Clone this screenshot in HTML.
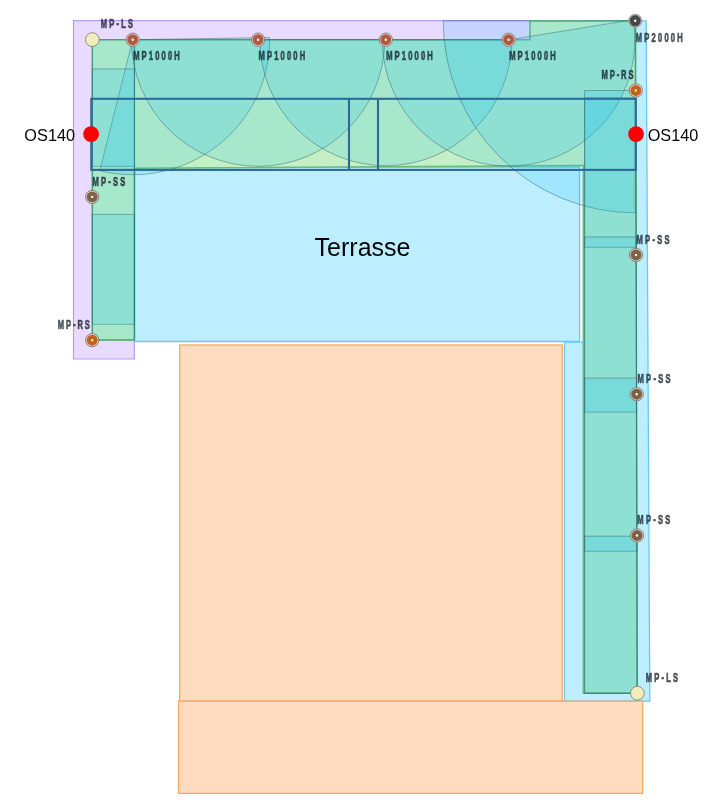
<!DOCTYPE html>
<html lang="de"><head><meta charset="utf-8"><title>Terrasse</title>
<style>
html,body{margin:0;padding:0;background:#fff;}
body{width:710px;height:811px;overflow:hidden;font-family:"Liberation Sans",sans-serif;}
svg{display:block;}
</style></head><body>
<svg width="710" height="811" viewBox="0 0 710 811">
<rect width="710" height="811" fill="#fff"/>
<path d="M73.5,20.7 H530 V40 H134.4 V359 H73.5 Z" fill="#e9daff" stroke="#b59cfa" stroke-width="1.2"/>
<path d="M134.4,167 H579.6 V341.5 H134.4 Z" fill="#bdeeff" stroke="#6cc8ee" stroke-width="1.3"/>
<path d="M583.6,20.8 H646.2 L649.8,701.2 H564.5 V342.2 H583.6 Z" fill="#bdeeff" stroke="#6cc8ee" stroke-width="1.3"/>
<rect x="179.7" y="345" width="382.6" height="356.2" fill="#ffdcc0" stroke="#f2a866" stroke-width="1.3"/>
<rect x="178.5" y="701.2" width="464.2" height="92.2" fill="#ffdcc0" stroke="#f2a866" stroke-width="1.3"/>
<path d="M92.3,39.7 H530 V20.9 H635.6 L637.2,693.2 H583.3 V165.5 L134.4,168.3 V340 H92.3 Z" fill="#c5efc4" stroke="#64c077" stroke-width="1.5"/>
<g fill="rgba(0,185,255,0.15)" stroke="rgba(58,100,104,0.55)" stroke-width="0.9" stroke-linejoin="round">
<path d="M132.70,39.70 L269.58,37.58 A136.90,135.00 0 0 1 99.81,170.75 Z"/>
<path d="M258.10,39.70 L384.70,39.70 A126.60,126.60 0 0 1 131.50,39.70 Z"/>
<path d="M385.80,39.70 L511.80,39.70 A126.00,126.00 0 0 1 259.80,39.70 Z"/>
<path d="M508.60,39.90 L633.28,19.71 A126.30,126.30 0 1 1 382.30,39.90 Z"/>
<path d="M635.20,20.80 L635.20,212.80 A192.00,192.00 0 0 1 443.20,20.80 Z"/>
<g stroke="rgba(35,105,110,0.45)" stroke-width="1">
<rect x="92.3" y="39.7" width="42.1" height="126.6"/>
<rect x="92.3" y="69" width="42.1" height="255.3"/>
<rect x="92.3" y="214.4" width="42.1" height="125.6"/>
</g>
<path d="M134.5,45 V340" fill="none" stroke="rgba(20,125,130,0.5)" stroke-width="1.2"/>
<path d="M584.6,90.5 H635.8 L636.1,247.3 H584.6 Z"/>
<path d="M584.6,98 H635.8 L636.6,412.1 H584.6 Z"/>
<path d="M584.6,237 H636.1 L637,551.3 H584.6 Z"/>
<path d="M584.6,378.1 H636.5 L637.2,693.2 H584.6 Z"/>
<path d="M584.6,536.2 H636.9 L637.2,693.2 H584.6 Z"/>
</g>
<g fill="none" stroke="#2d6a98" stroke-width="2.1">
<rect x="91.3" y="98.8" width="544.5" height="71.1"/>
<path d="M349,98.8 V169.9 M378,98.8 V169.9"/>
</g>
<circle cx="92.3" cy="39.6" r="6.9" fill="#f2ebbb" stroke="#85857f" stroke-width="0.9"/>
<circle cx="637.4" cy="693.2" r="6.9" fill="#f2ebbb" stroke="#85857f" stroke-width="0.9"/>
<circle cx="132.7" cy="39.7" r="6.65" fill="#ecd4c8" stroke="#7a7480" stroke-width="0.9"/><circle cx="132.7" cy="39.7" r="5.45" fill="#ae5b42"/><circle cx="132.7" cy="39.7" r="1.2" fill="#fff2e2"/>
<circle cx="258.1" cy="39.7" r="6.65" fill="#ecd4c8" stroke="#7a7480" stroke-width="0.9"/><circle cx="258.1" cy="39.7" r="5.45" fill="#ae5b42"/><circle cx="258.1" cy="39.7" r="1.2" fill="#fff2e2"/>
<circle cx="385.8" cy="39.7" r="6.65" fill="#ecd4c8" stroke="#7a7480" stroke-width="0.9"/><circle cx="385.8" cy="39.7" r="5.45" fill="#ae5b42"/><circle cx="385.8" cy="39.7" r="1.2" fill="#fff2e2"/>
<circle cx="508.6" cy="39.7" r="6.65" fill="#ecd4c8" stroke="#7a7480" stroke-width="0.9"/><circle cx="508.6" cy="39.7" r="5.45" fill="#ae5b42"/><circle cx="508.6" cy="39.7" r="1.2" fill="#fff2e2"/>
<circle cx="635.2" cy="20.8" r="6.65" fill="#a4a4a6" stroke="#9a9a9c" stroke-width="0.8"/><circle cx="635.2" cy="20.8" r="5.45" fill="#4a4648"/><circle cx="635.2" cy="20.8" r="1.2" fill="#ffffff"/>
<circle cx="635.8" cy="90.5" r="6.65" fill="#efd9c4" stroke="#7a7480" stroke-width="0.9"/><circle cx="635.8" cy="90.5" r="5.45" fill="#c2621f"/><circle cx="635.8" cy="90.5" r="1.2" fill="#ffe9a8"/>
<circle cx="92.2" cy="340.2" r="6.65" fill="#efd9c4" stroke="#7a7480" stroke-width="0.9"/><circle cx="92.2" cy="340.2" r="5.45" fill="#c2621f"/><circle cx="92.2" cy="340.2" r="1.2" fill="#ffe9a8"/>
<circle cx="92.2" cy="196.9" r="6.65" fill="#ddd5c6" stroke="#7a7480" stroke-width="0.9"/><circle cx="92.2" cy="196.9" r="5.45" fill="#7c6249"/><circle cx="92.2" cy="196.9" r="1.2" fill="#fff2e2"/>
<circle cx="636.0" cy="255" r="6.65" fill="#ddd5c6" stroke="#7a7480" stroke-width="0.9"/><circle cx="636.0" cy="255" r="5.45" fill="#7c6249"/><circle cx="636.0" cy="255" r="1.2" fill="#fff2e2"/>
<circle cx="636.7" cy="394.2" r="6.65" fill="#ddd5c6" stroke="#7a7480" stroke-width="0.9"/><circle cx="636.7" cy="394.2" r="5.45" fill="#7c6249"/><circle cx="636.7" cy="394.2" r="1.2" fill="#fff2e2"/>
<circle cx="637" cy="535.5" r="6.65" fill="#ddd5c6" stroke="#7a7480" stroke-width="0.9"/><circle cx="637" cy="535.5" r="5.45" fill="#7c6249"/><circle cx="637" cy="535.5" r="1.2" fill="#fff2e2"/>
<circle cx="91.1" cy="134.1" r="7.9" fill="#ff0000"/>
<circle cx="636" cy="134.1" r="7.9" fill="#ff0000"/>
<g font-family="&quot;Liberation Sans&quot;, sans-serif" fill="#141c26" stroke="#141c26" stroke-linejoin="round" opacity="0.78">
<text transform="translate(100.65,28.4) scale(0.62,1)" letter-spacing="3.604" font-weight="bold" font-size="12.2" stroke-width="0.6" vector-effect="non-scaling-stroke">MP-LS</text>
<text transform="translate(133.15,60.3) scale(0.62,1)" letter-spacing="3.497" font-weight="bold" font-size="12.2" stroke-width="0.6" vector-effect="non-scaling-stroke">MP1000H</text>
<text transform="translate(258.55,60.3) scale(0.62,1)" letter-spacing="3.497" font-weight="bold" font-size="12.2" stroke-width="0.6" vector-effect="non-scaling-stroke">MP1000H</text>
<text transform="translate(386.15,60.3) scale(0.62,1)" letter-spacing="3.497" font-weight="bold" font-size="12.2" stroke-width="0.6" vector-effect="non-scaling-stroke">MP1000H</text>
<text transform="translate(509.15,60.3) scale(0.62,1)" letter-spacing="3.497" font-weight="bold" font-size="12.2" stroke-width="0.6" vector-effect="non-scaling-stroke">MP1000H</text>
<text transform="translate(635.65,41.8) scale(0.62,1)" letter-spacing="3.632" font-weight="bold" font-size="12.2" stroke-width="0.6" vector-effect="non-scaling-stroke">MP2000H</text>
<text transform="translate(601.55,78.5) scale(0.62,1)" letter-spacing="3.063" font-weight="bold" font-size="12.2" stroke-width="0.6" vector-effect="non-scaling-stroke">MP-RS</text>
<text transform="translate(92.45,185.6) scale(0.62,1)" letter-spacing="3.635" font-weight="bold" font-size="12.2" stroke-width="0.6" vector-effect="non-scaling-stroke">MP-SS</text>
<text transform="translate(57.85,329) scale(0.62,1)" letter-spacing="3.063" font-weight="bold" font-size="12.2" stroke-width="0.6" vector-effect="non-scaling-stroke">MP-RS</text>
<text transform="translate(636.55,243.6) scale(0.62,1)" letter-spacing="3.635" font-weight="bold" font-size="12.2" stroke-width="0.6" vector-effect="non-scaling-stroke">MP-SS</text>
<text transform="translate(637.55,383) scale(0.62,1)" letter-spacing="3.635" font-weight="bold" font-size="12.2" stroke-width="0.6" vector-effect="non-scaling-stroke">MP-SS</text>
<text transform="translate(637.35,524.1) scale(0.62,1)" letter-spacing="3.635" font-weight="bold" font-size="12.2" stroke-width="0.6" vector-effect="non-scaling-stroke">MP-SS</text>
<text transform="translate(645.65,681.8) scale(0.62,1)" letter-spacing="3.604" font-weight="bold" font-size="12.2" stroke-width="0.6" vector-effect="non-scaling-stroke">MP-LS</text>
</g>
<g font-family="&quot;Liberation Sans&quot;, sans-serif" opacity="0.99">
<text transform="translate(24.35,140.9) scale(0.94,1)" letter-spacing="0.051" font-size="17.3" fill="#000">OS140</text>
<text transform="translate(647.65,140.9) scale(0.94,1)" letter-spacing="0.051" font-size="17.3" fill="#000">OS140</text>
<text transform="translate(314.50,255.8) scale(1,1)" letter-spacing="0.019" font-size="25" fill="#000">Terrasse</text>
</g>
</svg>
</body></html>
